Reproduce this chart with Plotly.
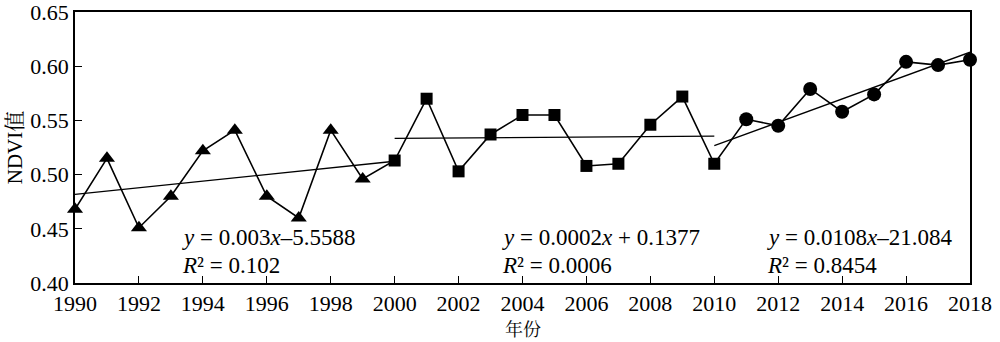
import numpy as np
import plotly.graph_objects as go

years = list(range(1990, 2019))
ndvi = [0.468, 0.515, 0.451, 0.480, 0.522, 0.541, 0.480, 0.460, 0.541, 0.496,
        0.513, 0.570, 0.503, 0.537, 0.555, 0.555, 0.508, 0.510, 0.546, 0.572,
        0.510, 0.551, 0.545, 0.579, 0.558, 0.574, 0.604, 0.601, 0.606]

tri_years = years[0:10]
tri_vals = ndvi[0:10]
sq_years = years[10:21]
sq_vals = ndvi[10:21]
circ_years = years[21:]
circ_vals = ndvi[21:]

# trend segments (start, end year)
segments = [(1990, 2000), (2000, 2010), (2010, 2018)]
equations = [
    ("<i>y</i> = 0.003<i>x</i>–5.5588", "<i>R</i>² = 0.102", 1993.3),
    ("<i>y</i> = 0.0002<i>x</i> + 0.1377", "<i>R</i>² = 0.0006", 2003.3),
    ("<i>y</i> = 0.0108<i>x</i>–21.084", "<i>R</i>² = 0.8454", 2011.6),
]
x_title = "年份"
y_title = "NDVI值"

FONT = "Liberation Serif, Noto Serif CJK SC"

fig = go.Figure()

fig.add_trace(go.Scatter(x=years, y=ndvi, mode="lines", cliponaxis=False,
                         line=dict(color="black", width=1.6), showlegend=False))

# trend lines
yr = np.array(years)
vals = np.array(ndvi)
for s, e in segments:
    m = (yr >= s) & (yr <= e)
    k, b = np.polyfit(yr[m], vals[m], 1)
    xs = [s, e]
    fig.add_trace(go.Scatter(x=xs, y=[k * x + b for x in xs], mode="lines", cliponaxis=False,
                             line=dict(color="black", width=1.3), showlegend=False))

fig.add_trace(go.Scatter(x=tri_years, y=tri_vals, mode="markers", cliponaxis=False,
                         marker=dict(symbol="triangle-up", size=14, color="black"),
                         showlegend=False))
fig.add_trace(go.Scatter(x=sq_years, y=sq_vals, mode="markers", cliponaxis=False,
                         marker=dict(symbol="square", size=12, color="black"),
                         showlegend=False))
fig.add_trace(go.Scatter(x=circ_years, y=circ_vals, mode="markers", cliponaxis=False,
                         marker=dict(symbol="circle", size=14, color="black"),
                         showlegend=False))

for eq, r2, xpos in equations:
    fig.add_annotation(x=xpos, y=0.442, text=eq, showarrow=False, xanchor="left",
                       yanchor="middle", font=dict(family=FONT, size=23, color="black"))
    fig.add_annotation(x=xpos, y=0.4165, text=r2, showarrow=False, xanchor="left",
                       yanchor="middle", font=dict(family=FONT, size=23, color="black"))

# x-axis title as annotation below tick labels
fig.add_annotation(x=0.5, y=-0.166, xref="paper", yref="paper", text=x_title,
                   showarrow=False, xanchor="center", yanchor="middle",
                   font=dict(family="Noto Serif CJK SC", size=18, color="black"))

fig.update_layout(
    width=1000, height=342,
    margin=dict(l=75, r=30, t=12, b=59),
    paper_bgcolor="white", plot_bgcolor="white",
    font=dict(family=FONT, size=22, color="black"),
)
fig.update_xaxes(range=[1990, 2018], tickmode="array",
                 tickvals=list(range(1990, 2019, 2)),
                 ticks="inside", ticklen=7, tickwidth=1.2, tickcolor="black",
                 showline=True, linecolor="black", linewidth=1.5, mirror=True,
                 showgrid=False, zeroline=False, automargin=False,
                 ticklabeloverflow="allow",
                 tickfont=dict(family=FONT, size=22))
fig.update_yaxes(range=[0.40, 0.65], tickmode="array",
                 tickvals=[0.40, 0.45, 0.50, 0.55, 0.60, 0.65],
                 ticktext=["0.40", "0.45", "0.50", "0.55", "0.60", "0.65"],
                 ticks="inside", ticklen=7, tickwidth=1.2, tickcolor="black",
                 showline=True, linecolor="black", linewidth=1.5, mirror=True,
                 showgrid=False, zeroline=False, automargin=False,
                 ticklabeloverflow="allow",
                 tickfont=dict(family=FONT, size=22),
                 title=dict(text=y_title, font=dict(family=FONT, size=21), standoff=2))

fig.write_html("out.html")
